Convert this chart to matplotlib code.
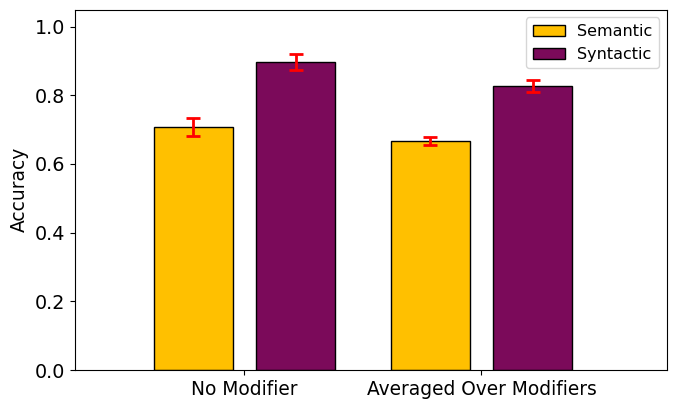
import numpy as np
import matplotlib
matplotlib.use('Agg')
import matplotlib.pyplot as plt

# data
groups = ['No Modifier', 'Averaged Over Modifiers']
semantic = [0.708, 0.667]
semantic_err = [0.025, 0.013]
syntactic = [0.898, 0.827]
syntactic_err = [0.023, 0.017]

fig = plt.figure(figsize=(6.77, 4.07), dpi=100)
ax = fig.add_axes([75/677, 37/407, 592/677, 360.5/407])

x = np.arange(len(groups))
w = 0.333
off = 0.216

ax.bar(x - off, semantic, w, color='#FFC000', edgecolor='black', label='Semantic',
       yerr=semantic_err, error_kw=dict(ecolor='red', capsize=5, elinewidth=2, capthick=2))
ax.bar(x + off, syntactic, w, color='#7B0A5A', edgecolor='black', label='Syntactic',
       yerr=syntactic_err, error_kw=dict(ecolor='red', capsize=5, elinewidth=2, capthick=2))

ax.set_xlim(-0.715, 1.783)
ax.set_ylim(0, 1.05)
ax.set_xticks(x)
ax.set_xticklabels(groups, fontsize=13.4)
ax.tick_params(axis='y', labelsize=13.8)
ax.set_ylabel('Accuracy', fontsize=13.4)
ax.legend(loc='upper right', fontsize=11.5)

plt.savefig('out.png', dpi=100)
